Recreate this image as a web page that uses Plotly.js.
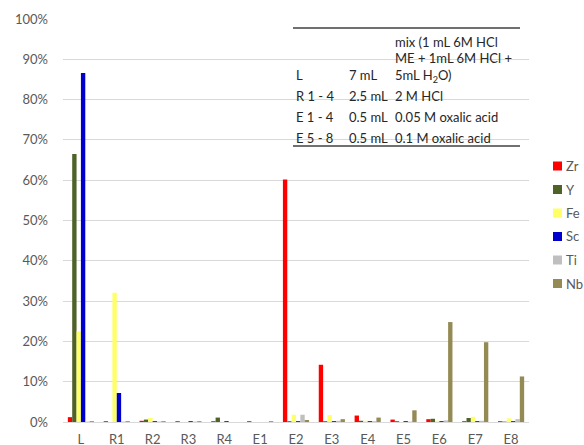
<!DOCTYPE html>
<html>
<head>
<meta charset="utf-8">
<script src="https://cdn.plot.ly/plotly-3.0.1.min.js"></script>
<style>html,body{margin:0;padding:0;background:#fff;}#chart{width:584px;height:445px;}</style>
</head>
<body>
<div id="chart"></div>
<script>
// Data (fractions, 0..1)
var categories = ["L","R1","R2","R3","R4","E1","E2","E3","E4","E5","E6","E7","E8"];
var seriesNames = ["Zr","Y","Fe","Sc","Ti","Nb"];
var Zr = [0.012,0.002,0.003,0.002,0.002,0.002,0.602,0.142,0.016,0.006,0.007,0.002,0.002];
var Y  = [0.665,0.000,0.006,0.000,0.011,0.000,0.002,0.002,0.003,0.002,0.008,0.010,0.001];
var Fe = [0.225,0.321,0.010,0.000,0.001,0.000,0.018,0.017,0.003,0.000,0.003,0.013,0.009];
var Sc = [0.866,0.072,0.002,0.002,0.002,0.000,0.002,0.002,0.002,0.002,0.002,0.002,0.002];
var Ti = [0.001,0.001,0.001,0.001,0.000,0.000,0.018,0.003,0.002,0.001,0.004,0.003,0.007];
var Nb = [0.002,0.002,0.002,0.002,0.000,0.002,0.005,0.007,0.011,0.029,0.248,0.198,0.113];
var seriesValues = [Zr, Y, Fe, Sc, Ti, Nb];
var yTickVals = [0,0.1,0.2,0.3,0.4,0.5,0.6,0.7,0.8,0.9,1.0];
var yTickText = ["0%","10%","20%","30%","40%","50%","60%","70%","80%","90%","100%"];

// Table text
var tableCol1 = ["L","R 1 - 4","E 1 - 4","E 5 - 8"];
var tableCol2 = ["7 mL","2.5 mL","0.5 mL","0.5 mL"];
var tableCol3 = ["mix (1 mL 6M HCl<br>ME + 1mL 6M HCl +<br>5mL H<sub>2</sub>O)","2 M HCl","0.05 M oxalic acid","0.1 M oxalic acid"];

var colors = ["#FF0000","#4F6228","#FFFF66","#0000CC","#BFBFBF","#948A54"];

// pixel helpers
var L0 = 63, R0 = 529, T0 = 19, B0 = 422;
function px(x){ return (x - L0) / (R0 - L0); }
function py(y){ return (B0 - y) / (B0 - T0); }

var traces = seriesNames.map(function(n, i){
  return {type:'bar', name:n, x:categories, y:seriesValues[i],
          marker:{color:colors[i], line:{width:0}}, showlegend:false, hoverinfo:'x+y+name'};
});

var FONT = "Lato, 'Liberation Sans', sans-serif";
var TFONT = {family:FONT, size:13, color:'#262626'};
var shapes = [];
var annotations = [];

// legend (manual)
seriesNames.forEach(function(n, i){
  var yc = 166 + i * 23.5;
  shapes.push({type:'rect', xref:'paper', yref:'paper', x0:px(553), x1:px(562), y0:py(yc+4.5), y1:py(yc-4.5),
               fillcolor:colors[i], line:{width:0}});
  annotations.push({xref:'paper', yref:'paper', x:px(564), y:py(yc), xanchor:'left', yanchor:'middle',
                    text:n, showarrow:false, font:{family:FONT, size:13, color:'#595959'}});
});

// table lines
shapes.push({type:'line', xref:'paper', yref:'paper', x0:px(293), x1:px(520), y0:py(28), y1:py(28), line:{color:'#404040', width:1.3}});
shapes.push({type:'line', xref:'paper', yref:'paper', x0:px(293), x1:px(520), y0:py(146), y1:py(146), line:{color:'#404040', width:1.3}});

var rowY = [75, 96, 117, 138];
var mixY = [42, 58, 75];
tableCol1.forEach(function(t, i){
  annotations.push({xref:'paper', yref:'paper', x:px(294), y:py(rowY[i]), xanchor:'left', yanchor:'middle', text:t, showarrow:false, font:TFONT});
  annotations.push({xref:'paper', yref:'paper', x:px(347), y:py(rowY[i]), xanchor:'left', yanchor:'middle', text:tableCol2[i], showarrow:false, font:TFONT});
  if (i === 0) {
    tableCol3[i].split('<br>').forEach(function(line, j){
      annotations.push({xref:'paper', yref:'paper', x:px(393), y:py(mixY[j] + (j === 2 ? 1 : 0)), xanchor:'left', yanchor:'middle', text:line, showarrow:false, font:TFONT});
    });
  } else {
    annotations.push({xref:'paper', yref:'paper', x:px(393), y:py(rowY[i]), xanchor:'left', yanchor:'middle', text:tableCol3[i], showarrow:false, font:TFONT});
  }
});

var layout = {
  width:584, height:445,
  margin:{l:L0, r:584-R0, t:T0, b:445-B0, pad:0},
  paper_bgcolor:'#fff', plot_bgcolor:'#fff',
  barmode:'group', bargap:0.27, bargroupgap:0,
  font:{family:FONT, size:13, color:'#595959'},
  xaxis:{type:'category', showgrid:false, zeroline:false, showline:false, ticks:'', ticklabelstandoff:8, tickfont:{family:FONT, size:13, color:'#595959'}, fixedrange:true},
  yaxis:{range:[0,1.0], tickvals:yTickVals, ticktext:yTickText, showgrid:true, gridcolor:'#D9D9D9', gridwidth:1,
         zeroline:true, zerolinecolor:'#D9D9D9', zerolinewidth:1, showline:false, ticks:'', ticklabelstandoff:14,
         tickfont:{family:FONT, size:13, color:'#595959'}, fixedrange:true},
  shapes:shapes, annotations:annotations, showlegend:false
};

Plotly.newPlot('chart', traces, layout, {displayModeBar:false, staticPlot:true});
</script>
</body>
</html>
